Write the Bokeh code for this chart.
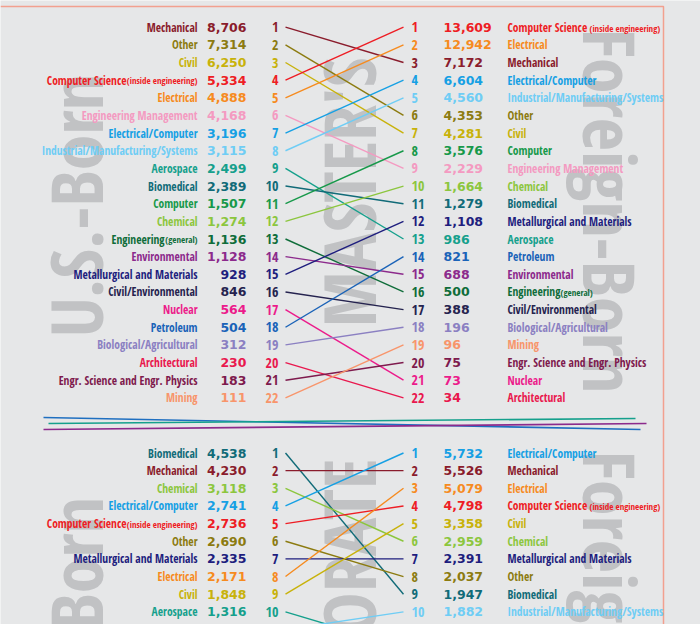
import numpy as np
from bokeh.plotting import figure
from bokeh.models import ColumnDataSource, Range1d
from bokeh.core.properties import value
from bokeh.embed import file_html
from bokeh.resources import INLINE

# ---------------- data ----------------
FIELDS = ["Mechanical", "Other", "Civil", "Computer Science", "Electrical",
          "Engineering Management", "Electrical/Computer",
          "Industrial/Manufacturing/Systems", "Aerospace", "Biomedical",
          "Computer", "Chemical", "Engineering", "Environmental",
          "Metallurgical and Materials", "Civil/Environmental", "Nuclear",
          "Petroleum", "Biological/Agricultural", "Architectural",
          "Engr. Science and Engr. Physics", "Mining"]
FIELD_COLORS = ["#8a1c2c", "#8c7b10", "#c8b20a", "#ee1d24", "#f68b1f",
                "#f49ac1", "#16a0e4", "#6fcdf5", "#15a08c", "#116b78",
                "#17994a", "#8cc63e", "#0f6d3a", "#8c2a8c",
                "#1e1e7e", "#25234f", "#ec1b8b",
                "#1a63b8", "#8b80c2", "#e9184e",
                "#7e1a4d", "#f8956b"]
FIELD_NOTES = {"Computer Science": "(inside engineering)", "Engineering": "(general)"}

masters_us_order = ["Mechanical", "Other", "Civil", "Computer Science", "Electrical",
                    "Engineering Management", "Electrical/Computer",
                    "Industrial/Manufacturing/Systems", "Aerospace", "Biomedical",
                    "Computer", "Chemical", "Engineering", "Environmental",
                    "Metallurgical and Materials", "Civil/Environmental", "Nuclear",
                    "Petroleum", "Biological/Agricultural", "Architectural",
                    "Engr. Science and Engr. Physics", "Mining"]
masters_us_values = [8706, 7314, 6250, 5334, 4888, 4168, 3196, 3115, 2499, 2389, 1507,
                     1274, 1136, 1128, 928, 846, 564, 504, 312, 230, 183, 111]

masters_fb_order = ["Computer Science", "Electrical", "Mechanical", "Electrical/Computer",
                    "Industrial/Manufacturing/Systems", "Other", "Civil", "Computer",
                    "Engineering Management", "Chemical", "Biomedical",
                    "Metallurgical and Materials", "Aerospace", "Petroleum",
                    "Environmental", "Engineering", "Civil/Environmental",
                    "Biological/Agricultural", "Mining", "Engr. Science and Engr. Physics",
                    "Nuclear", "Architectural"]
masters_fb_values = [13609, 12942, 7172, 6604, 4560, 4353, 4281, 3576, 2229, 1664, 1279,
                     1108, 986, 821, 688, 500, 388, 196, 96, 75, 73, 34]

doct_us_order = ["Biomedical", "Mechanical", "Chemical", "Electrical/Computer",
                 "Computer Science", "Other", "Metallurgical and Materials", "Electrical",
                 "Civil", "Aerospace", "Industrial/Manufacturing/Systems"]
doct_us_values = [4538, 4230, 3118, 2741, 2736, 2690, 2335, 2171, 1848, 1316, 1204]

doct_fb_order = ["Electrical/Computer", "Mechanical", "Electrical", "Computer Science",
                 "Civil", "Chemical", "Metallurgical and Materials", "Other",
                 "Biomedical", "Industrial/Manufacturing/Systems", "Computer", "Aerospace"]
doct_fb_values = [5732, 5526, 5079, 4798, 3358, 2959, 2391, 2037, 1947, 1882, 1451, 1315]

WATERMARKS = ["U.S.-Born", "MASTER'S", "Foreign-Born", "U.S.-Born", "DOCTORATE", "Foreign-Born"]

# ---------------- layout / style ----------------
W, H = 700, 624
BG = "#e6e7e8"
WM_COLOR = "#c1c2c4"
BORDER = "#f2a08f"
LABEL_FONT = "'Open Sans Condensed', 'Noto Sans Condensed', 'DejaVu Sans Condensed', sans-serif"
NUM_FONT = "DejaVu Sans"
ROW = 17.65
LBL_R, VAL_R, RANK_R, LINE_L = 197, 246, 278, 285
LINE_R, RANK_L, VAL_L, LBL_L = 403, 411, 443, 507
MAIN_W = {"Computer Science": 80, "Engineering": 51}
NOTE_W = {"(inside engineering)": 69, "(general)": 31}

color_of = dict(zip(FIELDS, FIELD_COLORS))


def fy(y):
    return H - y


p = figure(width=W, height=H, x_range=Range1d(0, W), y_range=Range1d(0, H),
           output_backend="svg", toolbar_location=None, min_border=0,
           x_axis_location=None, y_axis_location=None,
           background_fill_color=BG, border_fill_color=BG, outline_line_color=None)
p.xgrid.visible = False
p.ygrid.visible = False

# watermarks (x = centre of the capitals, y = where the word starts)
wm_x = [74, 347, 610, 74, 347, 610]
wm_y = [337, 57, 28, 760, 458, 450]
wm_angle = [np.pi / 2, np.pi / 2, -np.pi / 2, np.pi / 2, np.pi / 2, -np.pi / 2]
wm_align = ["left", "right", "left", "left", "right", "left"]
for t, x, y, a, al in zip(WATERMARKS, wm_x, wm_y, wm_angle, wm_align):
    p.text(x=[x], y=[fy(y)], text=[t], angle=a, text_align=al, text_baseline="middle",
           text_font=value(LABEL_FONT), text_font_style="bold",
           text_font_size=value("72px"), text_color=WM_COLOR)

# border
p.line(x=[0, 663, 663], y=[fy(6), fy(6), fy(H)], line_color=BORDER, line_width=1.5)

# separator lines
p.segment(x0=[43, 48, 43], y0=[fy(417), fy(423), fy(429)],
          x1=[640, 635, 646], y1=[fy(429), fy(418), fy(423)],
          line_color=["#1f6fc0", "#15a08c", "#8c2a8c"], line_width=1.6)


def split_label(name):
    return name, FIELD_NOTES.get(name, "")


def draw_section(us_order, us_vals, fb_order, fb_vals, row0):
    us_y = [row0 + i * ROW for i in range(len(us_order))]
    fb_y = [row0 + i * ROW for i in range(len(fb_order))]

    x0, y0, x1, y1, lc = [], [], [], [], []
    for i, f in enumerate(us_order):
        if f in fb_order:
            j = fb_order.index(f)
            x0.append(LINE_L); y0.append(fy(us_y[i]))
            x1.append(LINE_R); y1.append(fy(fb_y[j]))
            lc.append(color_of[f])
    p.segment(x0=x0, y0=y0, x1=x1, y1=y1, line_color=lc, line_width=1.4)

    # ---- left (U.S.-born) ----
    cols = [color_of[f] for f in us_order]
    lx, nx, nt, ny, nc = [], [], [], [], []
    for f, y in zip(us_order, us_y):
        main, note = split_label(f)
        if note:
            lx.append(LBL_R - NOTE_W[note] - 2)
            nx.append(LBL_R); nt.append(note); ny.append(fy(y) - 0.8); nc.append(color_of[f])
        else:
            lx.append(LBL_R)
    src = ColumnDataSource(dict(lx=lx, y=[fy(y) for y in us_y], t=us_order, c=cols,
                                v=[f"{v:,}" for v in us_vals],
                                r=[str(i + 1) for i in range(len(us_order))]))
    p.text(x="lx", y="y", text="t", source=src, text_color="c", text_align="right",
           text_baseline="middle", text_font=value(LABEL_FONT), text_font_style="bold",
           text_font_size=value("11.5px"))
    if nt:
        p.text(x=nx, y=ny, text=nt, text_color=nc, text_align="right",
               text_baseline="middle", text_font=value(LABEL_FONT),
               text_font_style="bold", text_font_size=value("9px"))
    p.text(x=VAL_R, y="y", text="v", source=src, text_color="c", text_align="right",
           text_baseline="middle", text_font=value(NUM_FONT), text_font_style="bold",
           text_font_size=value("12.5px"))
    p.text(x=RANK_R, y="y", text="r", source=src, text_color="c", text_align="right",
           text_baseline="middle", text_font=value(LABEL_FONT), text_font_style="bold",
           text_font_size=value("14px"))

    # ---- right (foreign-born) ----
    cols = [color_of[f] for f in fb_order]
    nx, nt, ny, nc = [], [], [], []
    for f, y in zip(fb_order, fb_y):
        main, note = split_label(f)
        if note:
            nx.append(LBL_L + MAIN_W[main] + 2); nt.append(note)
            ny.append(fy(y) - 0.8); nc.append(color_of[f])
    src = ColumnDataSource(dict(y=[fy(y) for y in fb_y], t=fb_order, c=cols,
                                v=[f"{v:,}" for v in fb_vals],
                                r=[str(i + 1) for i in range(len(fb_order))]))
    p.text(x=LBL_L, y="y", text="t", source=src, text_color="c", text_align="left",
           text_baseline="middle", text_font=value(LABEL_FONT), text_font_style="bold",
           text_font_size=value("11.5px"))
    if nt:
        p.text(x=nx, y=ny, text=nt, text_color=nc, text_align="left",
               text_baseline="middle", text_font=value(LABEL_FONT),
               text_font_style="bold", text_font_size=value("9px"))
    p.text(x=VAL_L, y="y", text="v", source=src, text_color="c", text_align="left",
           text_baseline="middle", text_font=value(NUM_FONT), text_font_style="bold",
           text_font_size=value("12.5px"))
    p.text(x=RANK_L, y="y", text="r", source=src, text_color="c", text_align="left",
           text_baseline="middle", text_font=value(LABEL_FONT), text_font_style="bold",
           text_font_size=value("14px"))


draw_section(masters_us_order, masters_us_values, masters_fb_order, masters_fb_values, 26.7)
draw_section(doct_us_order, doct_us_values, doct_fb_order, doct_fb_values, 452.5)

open("out.html", "w").write(file_html(p, INLINE))
